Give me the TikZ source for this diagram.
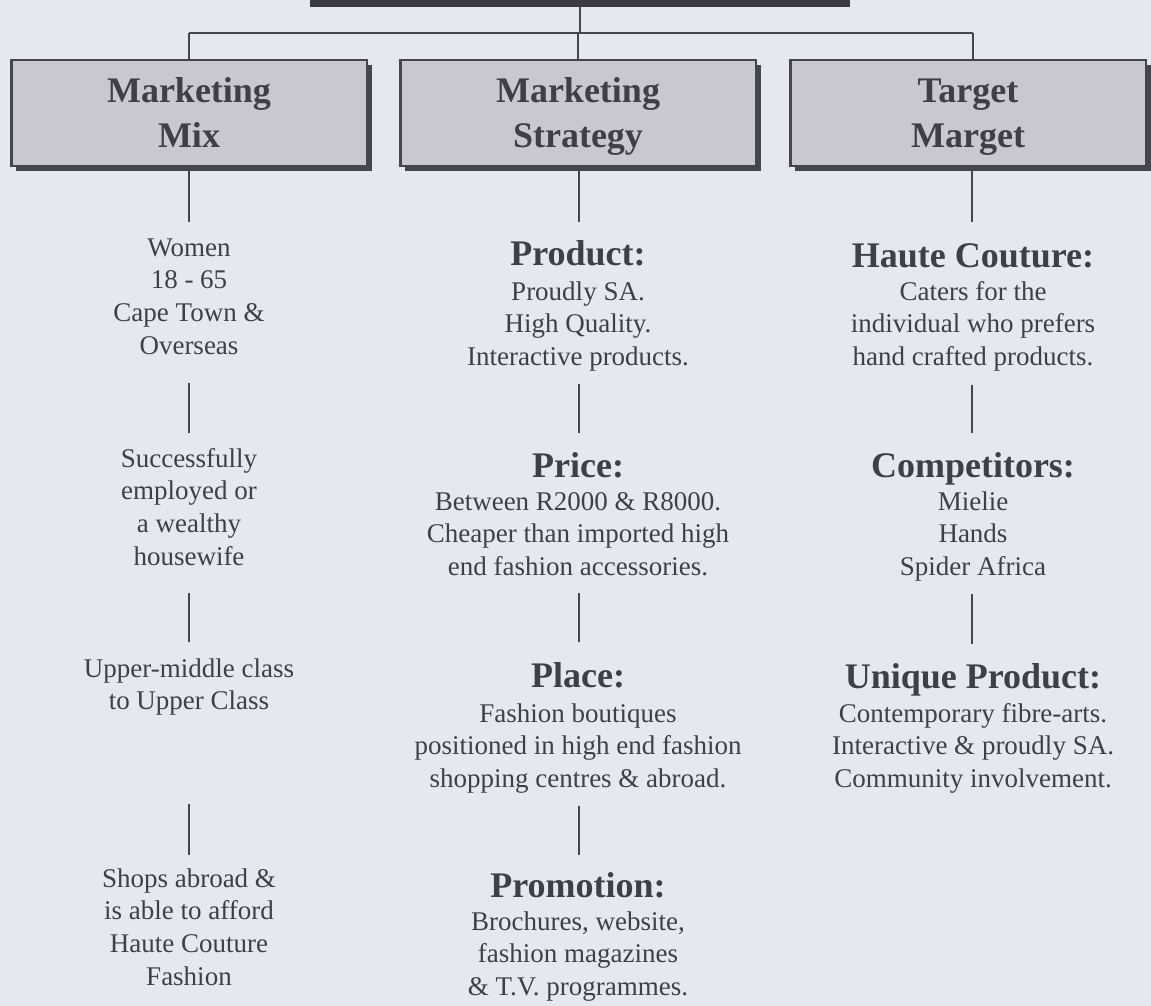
\documentclass[tikz,border=0pt]{standalone}
\usepackage{fontspec}
\setmainfont{Liberation Serif}
\usetikzlibrary{shadows}
\definecolor{bgc}{RGB}{230,232,240}
\definecolor{boxfill}{RGB}{201,199,210}
\definecolor{ink}{RGB}{62,64,70}
\definecolor{linec}{RGB}{68,70,76}
\definecolor{topfill}{RGB}{58,59,64}
\newcommand{\mylines}[1]{\begin{tabular}[t]{@{}c@{}}#1\end{tabular}}
\begin{document}
\begin{tikzpicture}[x=1pt,y=-1pt,
  catbox/.style={rectangle, draw=linec, line width=2.5pt, fill=boxfill,
    minimum width=355.5pt, minimum height=105.5pt, inner sep=0pt,
    drop shadow={shadow xshift=5pt, shadow yshift=-5pt, opacity=1, fill=linec}},
  toptitle/.style={anchor=base, inner sep=0pt, text=ink, font=\fontsize{36}{44}\selectfont\bfseries},
  hdr/.style={anchor=base, inner sep=0pt, text=ink, font=\fontsize{36}{40}\selectfont\bfseries},
  body/.style={anchor=base, inner sep=0pt, text=ink, font=\fontsize{27}{32.8}\selectfont},
  conn/.style={draw=linec, line width=2pt},
  mainconn/.style={draw=linec, line width=2.5pt}]
\useasboundingbox (0,0) rectangle (1151,1006);
\fill[bgc] (0,0) rectangle (1151,1006);
\clip (0,0) rectangle (1151,1006);

% top (cut-off) box
\node[fill=topfill, minimum width=540pt, minimum height=40pt, inner sep=0pt, anchor=south] (top) at (580,7) {};

% hub coordinates
\coordinate (hub) at (580,33);
\coordinate (hl) at (189,33);
\coordinate (hr) at (973,33);

% column coordinates for connector ends
\coordinate (m1) at (189,222);
\coordinate (m2) at (579,222);
\coordinate (m3) at (972,222);

\draw[mainconn] (top.south) -- (hub);
\draw[mainconn] (hl) -- (hr);

% category boxes
\node[catbox] (b1) at (189,113) {};
\node[catbox] (b2) at (578,113) {};
\node[catbox] (b3) at (968,113) {};

\draw[mainconn] (hl) -- (hl |- b1.north);
\draw[mainconn] (b2.north |- hub) -- (b2.north);
\draw[mainconn] (hr) -- (hr |- b3.north);

\draw[conn] (b1.south) -- (m1);
\draw[conn] (m2 |- b2.south) -- (m2);
\draw[conn] (m3 |- b3.south) -- (m3);

\node[toptitle] (t1) at (189,103) {\mylines{Marketing\\Mix}};
\node[toptitle] (t2) at (578,103) {\mylines{Marketing\\Strategy}};
\node[toptitle] (t3) at (968,103) {\mylines{Target\\Marget}};

% column 1
\node[body] (w1) at (189,256) {\mylines{Women\\18 - 65\\Cape Town \&\\Overseas}};
\node[body] (w2) at (189,467) {\mylines{Successfully\\employed or\\a wealthy\\housewife}};
\node[body] (w3) at (189,677) {\mylines{Upper-middle class\\to Upper Class}};
\node[body] (w4) at (189,887) {\mylines{Shops abroad \&\\is able to afford\\Haute Couture\\Fashion}};
\coordinate (c1a) at (189,383); \coordinate (c1b) at (189,433);
\coordinate (c1c) at (189,593); \coordinate (c1d) at (189,642);
\coordinate (c1e) at (189,804); \coordinate (c1f) at (189,855);
\draw[conn] (c1a) -- (c1b);
\draw[conn] (c1c) -- (c1d);
\draw[conn] (c1e) -- (c1f);

% column 2
\node[hdr] (h21) at (578,265) {Product:};
\node[body] (s21) at (578,300) {\mylines{Proudly SA.\\High Quality.\\Interactive products.}};
\node[hdr] (h22) at (578,477) {Price:};
\node[body] (s22) at (578,510) {\mylines{Between R2000 \& R8000.\\Cheaper than imported high\\end fashion accessories.}};
\node[hdr] (h23) at (578,687) {Place:};
\node[body] (s23) at (578,722) {\mylines{Fashion boutiques\\positioned in high end fashion\\shopping centres \& abroad.}};
\node[hdr] (h24) at (578,897) {Promotion:};
\node[body] (s24) at (578,930) {\mylines{Brochures, website,\\fashion magazines\\\& T.V. programmes.}};
\coordinate (c2a) at (579,384); \coordinate (c2b) at (579,433);
\coordinate (c2c) at (579,593); \coordinate (c2d) at (579,642);
\coordinate (c2e) at (579,806); \coordinate (c2f) at (579,855);
\draw[conn] (c2a) -- (c2b);
\draw[conn] (c2c) -- (c2d);
\draw[conn] (c2e) -- (c2f);

% column 3
\node[hdr] (h31) at (973,267) {Haute Couture:};
\node[body] (s31) at (973,300) {\mylines{Caters for the\\individual who prefers\\hand crafted products.}};
\node[hdr] (h32) at (973,477) {Competitors:};
\node[body] (s32) at (973,510) {\mylines{Mielie\\Hands\\Spider Africa}};
\node[hdr] (h33) at (973,688) {Unique Product:};
\node[body] (s33) at (973,722) {\mylines{Contemporary fibre-arts.\\Interactive \& proudly SA.\\Community involvement.}};
\coordinate (c3a) at (972,385); \coordinate (c3b) at (972,433);
\coordinate (c3c) at (972,594); \coordinate (c3d) at (972,644);
\draw[conn] (c3a) -- (c3b);
\draw[conn] (c3c) -- (c3d);
\end{tikzpicture}
\end{document}
